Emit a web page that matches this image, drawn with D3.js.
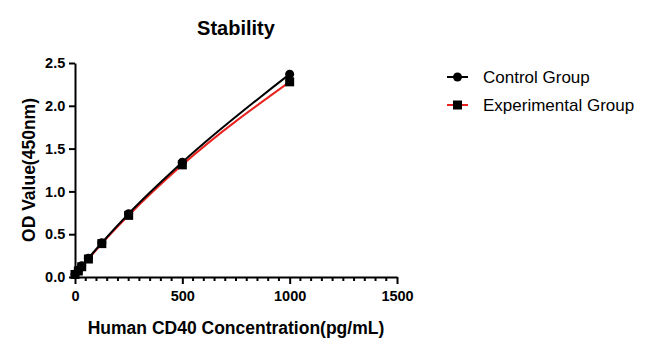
<!DOCTYPE html>
<html>
<head>
<meta charset="utf-8">
<script src="https://cdn.jsdelivr.net/npm/d3@7"></script>
<style>
  body { margin: 0; background: #fff; }
  svg text { font-family: Arial, "Liberation Sans", sans-serif; }
</style>
</head>
<body>
<div id="chart"></div>
<script>
// Concentrations (pg/mL) and OD readings
var concentrations = [0, 15.6, 31.25, 62.5, 125, 250, 500, 1000];
var controlValues = [0.03, 0.08, 0.13, 0.22, 0.40, 0.74, 1.34, 2.37];
var experimentalValues = [0.03, 0.07, 0.12, 0.21, 0.39, 0.72, 1.31, 2.28];
var xTicks = [0, 500, 1000, 1500];
var yTicks = [0.0, 0.5, 1.0, 1.5, 2.0, 2.5];
var seriesNames = ["Control Group", "Experimental Group"];

var width = 651, height = 350;
var margin = {top: 63, left: 75, right: 254, bottom: 73}; // plot box

var svg = d3.select("#chart").append("svg")
    .attr("width", width)
    .attr("height", height);

var xScale = d3.scaleLinear().domain([0, 1500]).range([margin.left, width - margin.right]);
var yScale = d3.scaleLinear().domain([0, 2.5]).range([height - margin.bottom, margin.top]);

// minor ticks on x every 50
var xMinor = d3.range(0, 1501, 50).filter(function(d) { return d % 500 != 0; });
svg.append("g")
    .attr("transform", "translate(0," + yScale(0) + ")")
    .selectAll("line").data(xMinor).enter().append("line")
    .attr("x1", function(d) { return xScale(d); })
    .attr("x2", function(d) { return xScale(d); })
    .attr("y1", 0).attr("y2", 4)
    .attr("stroke", "#000").attr("stroke-width", 2);

var xAxis = d3.axisBottom(xScale).tickValues(xTicks).tickFormat(d3.format("d")).tickSize(7).tickSizeOuter(0);
var gx = svg.append("g")
    .attr("transform", "translate(0," + yScale(0) + ")")
    .call(xAxis);

var yAxis = d3.axisLeft(yScale).tickValues(yTicks).tickFormat(d3.format(".1f")).tickSize(6).tickSizeOuter(0);
var gy = svg.append("g")
    .attr("transform", "translate(" + xScale(0) + ",0)")
    .call(yAxis);

[gx, gy].forEach(function(g) {
    g.select(".domain").attr("stroke", "#000").attr("stroke-width", 2);
    g.selectAll(".tick line").attr("stroke", "#000").attr("stroke-width", 2);
    g.selectAll(".tick text")
        .attr("fill", "#000")
        .style("font-size", "14.5px")
        .style("font-weight", "bold");
});
gx.selectAll(".tick text").attr("dy", "0.95em");
gy.selectAll(".tick text").attr("dx", "-0.05em");

// lines
var line = d3.line()
    .x(function(d) { return xScale(d[0]); })
    .y(function(d) { return yScale(d[1]); })
    .curve(d3.curveMonotoneX);

var ctrl = concentrations.map(function(c, i) { return [c, controlValues[i]]; });
var expt = concentrations.map(function(c, i) { return [c, experimentalValues[i]]; });

svg.append("path").datum(expt)
    .attr("fill", "none").attr("stroke", "#e8231f").attr("stroke-width", 2)
    .attr("d", line);
svg.append("path").datum(ctrl)
    .attr("fill", "none").attr("stroke", "#000").attr("stroke-width", 2)
    .attr("d", line);

// markers
svg.append("g").selectAll("circle").data(ctrl).enter().append("circle")
    .attr("cx", function(d) { return xScale(d[0]); })
    .attr("cy", function(d) { return yScale(d[1]); })
    .attr("r", 4.5).attr("fill", "#000");
svg.append("g").selectAll("rect").data(expt).enter().append("rect")
    .attr("x", function(d) { return xScale(d[0]) - 4.5; })
    .attr("y", function(d) { return yScale(d[1]) - 4.5; })
    .attr("width", 9).attr("height", 9).attr("fill", "#000");

// title and axis labels
svg.append("text")
    .attr("x", 236).attr("y", 35)
    .attr("text-anchor", "middle")
    .style("font-size", "20px").style("font-weight", "bold")
    .text("Stability");

svg.append("text")
    .attr("x", 236).attr("y", 334)
    .attr("text-anchor", "middle")
    .style("font-size", "17.5px").style("font-weight", "bold")
    .text("Human CD40 Concentration(pg/mL)");

svg.append("text")
    .attr("transform", "translate(35," + ((yScale(0) + yScale(2.5)) / 2) + ") rotate(-90)")
    .attr("text-anchor", "middle")
    .style("font-size", "17.5px").style("font-weight", "bold")
    .text("OD Value(450nm)");

// legend
var legend = svg.append("g");
seriesNames.forEach(function(name, i) {
    var y = 77 + i * 28;
    legend.append("line")
        .attr("x1", 447).attr("x2", 468).attr("y1", y).attr("y2", y)
        .attr("stroke", i == 0 ? "#000" : "#e8231f").attr("stroke-width", 2);
    if (i == 0) {
        legend.append("circle").attr("cx", 457.5).attr("cy", y).attr("r", 4.5).attr("fill", "#000");
    } else {
        legend.append("rect").attr("x", 453).attr("y", y - 4.5).attr("width", 9).attr("height", 9).attr("fill", "#000");
    }
    legend.append("text")
        .attr("x", 483).attr("y", y + 6)
        .style("font-size", "17px")
        .text(name);
});
</script>
</body>
</html>
